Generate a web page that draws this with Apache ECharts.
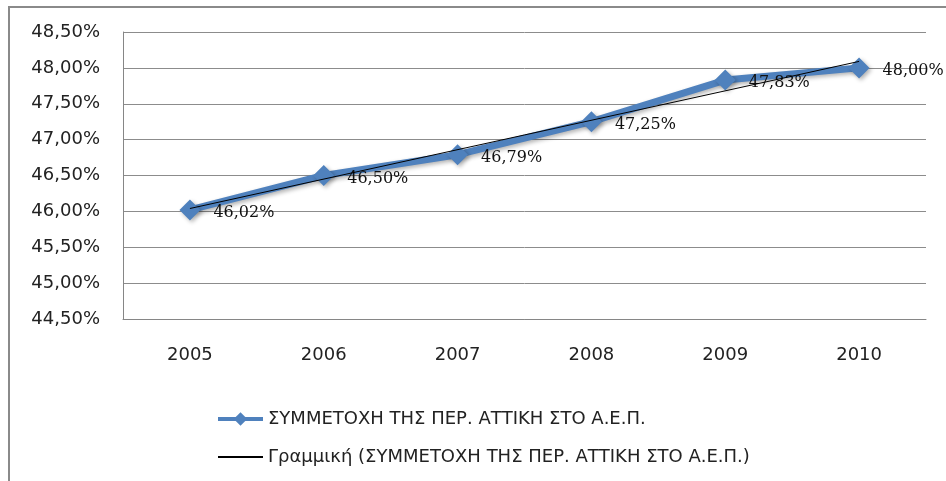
<!DOCTYPE html>
<html>
<head>
<meta charset="utf-8">
<script src="https://cdn.jsdelivr.net/npm/echarts@6/dist/echarts.min.js"></script>
<style>
  html, body { margin: 0; padding: 0; background: #fff; }
  #chart { width: 946px; height: 481px; }
</style>
</head>
<body>
<div id="chart"></div>
<script>
// years on the x axis
var years = ['2005', '2006', '2007', '2008', '2009', '2010'];
// share of Attica in GDP (%)
var shareValues = [46.02, 46.50, 46.79, 47.25, 47.83, 48.00];
// linear trendline end points
var trendYears = ['2005', '2010'];
var trendValues = [46.04, 48.09];

var seriesName = 'ΣΥΜΜΕΤΟΧΗ ΤΗΣ ΠΕΡ. ΑΤΤΙΚΗ ΣΤΟ Α.Ε.Π.';
var trendName = 'Γραμμική (ΣΥΜΜΕΤΟΧΗ ΤΗΣ ΠΕΡ. ΑΤΤΙΚΗ ΣΤΟ Α.Ε.Π.)';

function pct(v) {
  return v.toFixed(2).replace('.', ',') + '%';
}

var chart = echarts.init(document.getElementById('chart'));

var option = {
  animation: false,
  graphic: [{
    type: 'rect',
    shape: { x: 9, y: 7, width: 1200, height: 1000 },
    style: { fill: 'none', stroke: '#8a8a8a', lineWidth: 2 },
    silent: true
  }],
  grid: { left: 123, right: 20, top: 32, bottom: 162 },
  xAxis: {
    type: 'category',
    data: years,
    boundaryGap: true,
    axisLine: { lineStyle: { color: '#868686' } },
    axisTick: { show: false },
    axisLabel: {
      margin: 27,
      color: '#222',
      fontFamily: 'DejaVu Sans',
      fontSize: 18
    }
  },
  yAxis: {
    type: 'value',
    min: 44.5,
    max: 48.5,
    interval: 0.5,
    axisLine: { show: true, lineStyle: { color: '#868686' } },
    axisTick: { show: false },
    splitLine: { lineStyle: { color: '#8c8c8c', width: 1 } },
    axisLabel: {
      margin: 23,
      color: '#222',
      fontFamily: 'DejaVu Sans',
      fontSize: 18,
      formatter: pct
    }
  },
  legend: {
    orient: 'vertical',
    left: 211,
    top: 405,
    itemWidth: 45,
    itemHeight: 17,
    itemGap: 20,
    textStyle: { fontFamily: 'DejaVu Sans', fontSize: 18, color: '#222' },
    data: [
      { name: seriesName, lineStyle: { width: 4 } },
      { name: trendName, itemStyle: { opacity: 0 } }
    ]
  },
  series: [
    {
      name: seriesName,
      type: 'line',
      data: shareValues,
      symbol: 'diamond',
      symbolSize: 21,
      color: '#4f81bd',
      lineStyle: {
        width: 7,
        color: '#4f81bd',
        shadowColor: 'rgba(0,0,0,0.3)',
        shadowBlur: 4,
        shadowOffsetX: 2,
        shadowOffsetY: 2
      },
      itemStyle: {
        color: '#4f81bd',
        shadowColor: 'rgba(0,0,0,0.3)',
        shadowBlur: 4,
        shadowOffsetX: 2,
        shadowOffsetY: 2
      },
      label: {
        show: true,
        position: 'right',
        distance: 13,
        offset: [0, 3],
        color: '#111',
        fontFamily: 'DejaVu Serif',
        fontSize: 16,
        formatter: function (p) { return pct(p.value); }
      },
      z: 2
    },
    {
      name: trendName,
      type: 'line',
      data: trendYears.map(function (y, i) { return [y, trendValues[i]]; }),
      symbol: 'none',
      color: '#000',
      lineStyle: { width: 1, color: '#000' },
      z: 3
    }
  ]
};

chart.setOption(option);
</script>
</body>
</html>
